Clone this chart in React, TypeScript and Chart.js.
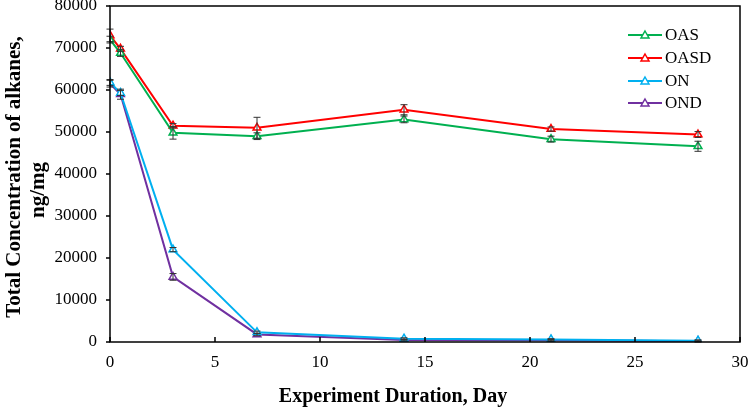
import React, { useEffect, useRef } from "react";
import { Chart, registerables } from "chart.js";

Chart.register(...registerables);

const days = [0, 0.5, 3, 7, 14, 21, 28];
const seriesNames = ["OAS", "OASD", "ON", "OND"];
const seriesColors = ["#00B050", "#FF0000", "#00B0F0", "#7030A0"];
const oas = [72000, 68800, 49800, 49000, 53000, 48300, 46600];
const oasd = [73000, 69800, 51500, 51000, 55300, 50700, 49400];
const on = [61800, 59300, 22000, 2300, 800, 600, 300];
const ond = [61500, 59000, 15500, 1800, 500, 400, 200];
const oasErr = [800, 800, 1500, 800, 800, 700, 1200];
const oasdErr = [1500, 600, 500, 2500, 1200, 500, 700];
const onErr = [700, 600, 500, 300, 200, 200, 200];
const ondErr = [800, 1200, 800, 300, 200, 200, 200];
const xTicks = [0, 5, 10, 15, 20, 25, 30];
const yTicks = [0, 10000, 20000, 30000, 40000, 50000, 60000, 70000, 80000];
const xTitle = "Experiment Duration, Day";
const yTitleLines = ["Total Concentration of alkanes,", "ng/mg"];

const seriesValues = [oas, oasd, on, ond];
const seriesErrors = [oasErr, oasdErr, onErr, ondErr];
const FONT = "'Liberation Serif', 'Times New Roman', serif";

const framePlugin = {
  id: "frame",
  afterDatasetsDraw(chart: any) {
    const ctx = chart.ctx;
    const { left, right, top, bottom } = chart.chartArea;
    const xs = chart.scales.x;
    const ys = chart.scales.y;
    ctx.save();
    // error bars
    ctx.strokeStyle = "#333";
    ctx.lineWidth = 1;
    seriesValues.forEach((vals, si) => {
      vals.forEach((v, i) => {
        const e = seriesErrors[si][i];
        const px = xs.getPixelForValue(days[i]);
        const p1 = ys.getPixelForValue(v + e);
        const p2 = ys.getPixelForValue(v - e);
        ctx.beginPath();
        ctx.moveTo(px, p1);
        ctx.lineTo(px, p2);
        ctx.moveTo(px - 3.5, p1);
        ctx.lineTo(px + 3.5, p1);
        ctx.moveTo(px - 3.5, p2);
        ctx.lineTo(px + 3.5, p2);
        ctx.stroke();
      });
    });
    // frame
    ctx.strokeStyle = "#000";
    ctx.lineWidth = 1.5;
    ctx.strokeRect(left, top, right - left, bottom - top);
    // ticks
    ctx.beginPath();
    xTicks.forEach((t) => {
      const px = xs.getPixelForValue(t);
      ctx.moveTo(px, bottom);
      ctx.lineTo(px, bottom - 5);
    });
    yTicks.forEach((t) => {
      const py = ys.getPixelForValue(t);
      ctx.moveTo(left, py);
      ctx.lineTo(left - 4, py);
    });
    ctx.stroke();
    // legend
    const lx1 = 628, lx2 = 662;
    const ly = [35, 58, 81, 103];
    ctx.font = `17px ${FONT}`;
    ctx.textBaseline = "middle";
    ctx.textAlign = "left";
    chart.data.datasets.forEach((ds: any, i: number) => {
      ctx.strokeStyle = ds.borderColor;
      ctx.lineWidth = 2;
      ctx.beginPath();
      ctx.moveTo(lx1, ly[i]);
      ctx.lineTo(lx2, ly[i]);
      ctx.stroke();
      const cx = (lx1 + lx2) / 2;
      ctx.fillStyle = "#fff";
      ctx.lineWidth = 1.5;
      ctx.beginPath();
      ctx.moveTo(cx, ly[i] - 4);
      ctx.lineTo(cx + 4, ly[i] + 3);
      ctx.lineTo(cx - 4, ly[i] + 3);
      ctx.closePath();
      ctx.fill();
      ctx.stroke();
      ctx.fillStyle = "#000";
      ctx.fillText(ds.label, 665, ly[i] + 1);
    });
    // axis titles
    ctx.fillStyle = "#000";
    ctx.textAlign = "center";
    ctx.font = `bold 20px ${FONT}`;
    ctx.fillText(xTitle, 393, 397);
    ctx.font = `bold 21px ${FONT}`;
    ctx.save();
    ctx.translate(15, 177);
    ctx.rotate(-Math.PI / 2);
    ctx.fillText(yTitleLines[0], 0, 0);
    ctx.restore();
    ctx.save();
    ctx.translate(39, 190);
    ctx.rotate(-Math.PI / 2);
    ctx.fillText(yTitleLines[1], 0, 0);
    ctx.restore();
    ctx.restore();
  },
};

export default function App() {
  const ref = useRef<HTMLCanvasElement>(null);
  useEffect(() => {
    document.body.style.margin = "0";
    const chart = new Chart(ref.current!, {
      type: "line",
      data: {
        datasets: seriesNames.map((name, si) => ({
          label: name,
          data: days.map((d, i) => ({ x: d, y: seriesValues[si][i] })),
          borderColor: seriesColors[si],
          backgroundColor: "#fff",
          borderWidth: 2,
          pointStyle: "triangle",
          pointRadius: 4.5,
          pointBorderWidth: 1.5,
          pointBorderColor: seriesColors[si],
          pointBackgroundColor: "#fff",
          tension: 0,
        })),
      },
      options: {
        animation: false,
        responsive: false,
        maintainAspectRatio: false,
        layout: { padding: { top: 6, right: 11, left: 0, bottom: 0 } },
        plugins: { legend: { display: false }, tooltip: { enabled: false } },
        scales: {
          x: {
            type: "linear",
            min: 0,
            max: 30,
            afterBuildTicks: (s: any) => {
              s.ticks = xTicks.map((v) => ({ value: v }));
            },
            afterFit: (s: any) => {
              s.height = 66;
              s.paddingLeft = 0;
              s.paddingRight = 0;
            },
            grid: { display: false, drawTicks: false },
            border: { display: false },
            ticks: {
              padding: 10,
              color: "#000",
              font: { family: FONT, size: 17 },
              maxRotation: 0,
            },
          },
          y: {
            type: "linear",
            min: 0,
            max: 80000,
            afterBuildTicks: (s: any) => {
              s.ticks = yTicks.map((v) => ({ value: v }));
            },
            afterFit: (s: any) => {
              s.width = 110;
              s.paddingTop = 0;
              s.paddingBottom = 0;
            },
            grid: { display: false, drawTicks: false },
            border: { display: false },
            ticks: {
              padding: 13,
              color: "#000",
              font: { family: FONT, size: 17 },
              callback: (v: any) => String(v),
            },
          },
        },
      },
      plugins: [framePlugin],
    });
    return () => chart.destroy();
  }, []);
  return <canvas ref={ref} width={751} height={408} style={{ display: "block" }} />;
}
